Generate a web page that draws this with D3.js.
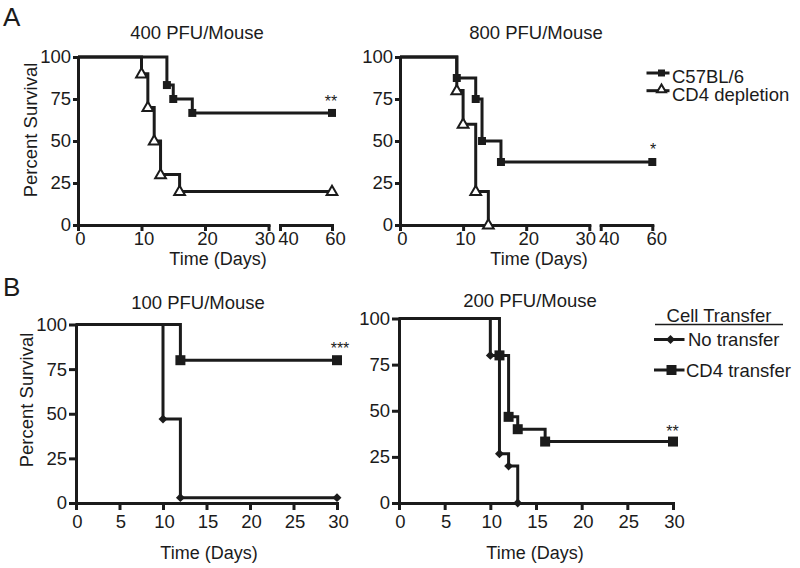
<!DOCTYPE html>
<html><head><meta charset="utf-8">
<script src="https://cdn.jsdelivr.net/npm/d3@7"></script>
<style>
body{margin:0;background:#fff}
svg{display:block}
text{font-family:"Liberation Sans",Arial,Helvetica,sans-serif}
</style>
</head><body>
<svg id="c" width="800" height="568"></svg>
<script>
// ---------------- DATA ----------------
const yTicks = [0, 25, 50, 75, 100];
const xTicksA1 = [0, 10, 20, 30];
const xTicksA2 = [40, 60];
const xTicksB = [0, 5, 10, 15, 20, 25, 30];

const seriesA = ["C57BL/6", "CD4 depletion"];
const seriesB = ["No transfer", "CD4 transfer"];
const legendTitleB = "Cell Transfer";

// 400 PFU/Mouse
const a400_c57_t = [0, 14, 15, 18, 60];
const a400_c57_s = [100, 83.3, 75, 66.7, 66.7];
const a400_cd4_t = [0, 10, 11, 12, 13, 16, 60];
const a400_cd4_s = [100, 90, 70, 50, 30, 20, 20];
// 800 PFU/Mouse
const a800_c57_t = [0, 9, 12, 13, 16, 60];
const a800_c57_s = [100, 87.5, 75, 50, 37.5, 37.5];
const a800_cd4_t = [0, 9, 10, 12, 14];
const a800_cd4_s = [100, 80, 60, 20, 0];
// 100 PFU/Mouse
const b100_no_t = [0, 10, 12, 30];
const b100_no_s = [100, 47, 3, 3];
const b100_cd4_t = [0, 12, 30];
const b100_cd4_s = [100, 80, 80];
// 200 PFU/Mouse
const b200_no_t = [0, 10, 11, 12, 13];
const b200_no_s = [100, 80, 26.7, 20, 0];
const b200_cd4_t = [0, 11, 12, 13, 16, 30];
const b200_cd4_s = [100, 80, 46.7, 40, 33.3, 33.3];

const titles = ["400 PFU/Mouse", "800 PFU/Mouse", "100 PFU/Mouse", "200 PFU/Mouse"];
const signif = ["**", "*", "***", "**"];
const xLabel = "Time (Days)";
const yLabel = "Percent Survival";

// ---------------- DRAW ----------------
const INK = "#1b1b1b";
const svg = d3.select("#c");

const sqA = d3.symbol().type(d3.symbolSquare).size(64);
const sqB = d3.symbol().type(d3.symbolSquare).size(100);
const tri = d3.symbol().type(d3.symbolTriangle).size(50);
const dia = d3.symbol().type(d3.symbolSquare).size(40);

function marker(g, kind, cx, cy) {
  if (kind === "sqA") g.append("path").attr("d", sqA()).attr("transform", `translate(${cx},${cy})`).attr("fill", INK);
  else if (kind === "sqB") g.append("path").attr("d", sqB()).attr("transform", `translate(${cx},${cy})`).attr("fill", INK);
  else if (kind === "tri") g.append("path").attr("d", tri()).attr("transform", `translate(${cx},${cy + 0.5})`).attr("fill", "#fff").attr("stroke", INK).attr("stroke-width", 2);
  else if (kind === "dia") g.append("path").attr("d", dia()).attr("transform", `translate(${cx},${cy}) rotate(45)`).attr("fill", INK);
}

function styleAxis(a, fs) {
  a.attr("font-family", null).attr("font-size", null);
  a.select(".domain").attr("stroke", INK).attr("stroke-width", 3).attr("stroke-linecap", "square");
  a.selectAll(".tick line").attr("stroke", INK).attr("stroke-width", 3);
  a.selectAll(".tick text").attr("fill", INK).style("font-size", fs + "px");
}

function panel(cfg) {
  const g = svg.append("g");
  const x = d3.scaleLinear().domain(cfg.xd).range(cfg.xr);
  const y = d3.scaleLinear().domain([0, 100]).range([cfg.y0, cfg.y100]);

  // axes
  const ya = g.append("g").attr("transform", `translate(${cfg.xr[0]},0)`)
    .call(d3.axisLeft(y).tickValues(yTicks).tickSize(cfg.ytick).tickPadding(cfg.ypad).tickSizeOuter(0));
  styleAxis(ya, cfg.fs);
  cfg.xsegs.forEach(seg => {
    const xs = d3.scaleLinear().domain(seg.d).range(seg.d.map(x));
    const xa = g.append("g").attr("transform", `translate(0,${cfg.y0})`)
      .call(d3.axisBottom(xs).tickValues(seg.ticks).tickSize(cfg.xtick).tickPadding(cfg.xpad).tickSizeOuter(0));
    styleAxis(xa, cfg.fs);
    if (cfg.xdx) xa.selectAll(".tick text").attr("dx", d => (cfg.xdx[d] !== undefined ? cfg.xdx[d] : cfg.xdx.def));
  });

  // lines
  const line = d3.line().x(d => x(d[0])).y(d => y(d[1])).curve(d3.curveStepAfter);
  cfg.series.forEach(s => {
    const pts = s.t.map((t, i) => [t, s.s[i]]);
    g.append("path").datum(pts).attr("d", line).attr("fill", "none")
      .attr("stroke", INK).attr("stroke-width", 3).attr("stroke-linejoin", "miter");
  });
  cfg.series.forEach(s => {
    s.t.forEach((t, i) => { if (i > 0) marker(g, s.m, x(t), y(s.s[i])); });
  });

  // texts
  g.append("text").text(cfg.title).attr("x", cfg.tx).attr("y", cfg.ty)
    .attr("text-anchor", "middle").style("font-size", "18.5px").attr("fill", INK);
  g.append("text").text(xLabel).attr("x", cfg.lx).attr("y", cfg.ly)
    .attr("text-anchor", "middle").style("font-size", "18px").attr("fill", INK);
  if (cfg.yl) {
    g.append("text").text(yLabel).attr("transform", `translate(${cfg.yl[0]},${cfg.yl[1]}) rotate(-90)`)
      .attr("text-anchor", "middle").style("font-size", "18.5px").attr("fill", INK);
  }
  g.append("text").text(cfg.sig).attr("x", cfg.sx).attr("y", cfg.sy)
    .attr("text-anchor", "middle").style("font-size", "16px").attr("fill", INK);
}

panel({
  xd: [0, 30, 40, 60], xr: [78, 268.5, 280, 332], y0: 225, y100: 57,
  xsegs: [{ d: [0, 30], ticks: xTicksA1 }, { d: [40, 60], ticks: xTicksA2 }],
  ytick: 5, ypad: 2, xtick: 6, xpad: 1, fs: 18.5,
  xdx: { def: 2, 30: -4, 40: 8, 60: 3 },
  series: [
    { t: a400_c57_t, s: a400_c57_s, m: "sqA" },
    { t: a400_cd4_t, s: a400_cd4_s, m: "tri" }
  ],
  title: titles[0], tx: 197, ty: 39, lx: 218, ly: 264.5, yl: [37, 130],
  sig: signif[0], sx: 331, sy: 107
});
panel({
  xd: [0, 30, 40, 60], xr: [400, 589.3, 600.7, 652.3], y0: 225, y100: 57,
  xsegs: [{ d: [0, 30], ticks: xTicksA1 }, { d: [40, 60], ticks: xTicksA2 }],
  ytick: 5, ypad: 2, xtick: 6, xpad: 1, fs: 18.5,
  xdx: { def: 2, 30: -4, 40: 8, 60: 4 },
  series: [
    { t: a800_c57_t, s: a800_c57_s, m: "sqA" },
    { t: a800_cd4_t, s: a800_cd4_s, m: "tri" }
  ],
  title: titles[1], tx: 536, ty: 39, lx: 539, ly: 264.5, yl: null,
  sig: signif[1], sx: 653, sy: 155
});
panel({
  xd: [0, 30], xr: [76, 337], y0: 503, y100: 324.5,
  xsegs: [{ d: [0, 30], ticks: xTicksB }],
  ytick: 7, ypad: 2, xtick: 7, xpad: 5, fs: 18.5,
  xdx: { def: 1 },
  series: [
    { t: b100_no_t, s: b100_no_s, m: "dia" },
    { t: b100_cd4_t, s: b100_cd4_s, m: "sqB" }
  ],
  title: titles[2], tx: 198, ty: 309, lx: 209, ly: 559, yl: [33, 400],
  sig: signif[2], sx: 340, sy: 354
});
panel({
  xd: [0, 30], xr: [399, 673], y0: 503, y100: 318.5,
  xsegs: [{ d: [0, 30], ticks: xTicksB }],
  ytick: 7, ypad: 2, xtick: 7, xpad: 5, fs: 18.5,
  xdx: { def: 1 },
  series: [
    { t: b200_no_t, s: b200_no_s, m: "dia" },
    { t: b200_cd4_t, s: b200_cd4_s, m: "sqB" }
  ],
  title: titles[3], tx: 530, ty: 307, lx: 535, ly: 559, yl: null,
  sig: signif[3], sx: 672.5, sy: 437
});

// panel letters
svg.append("text").text("A").attr("x", 3).attr("y", 26).style("font-size", "26px").attr("fill", INK);
svg.append("text").text("B").attr("x", 3).attr("y", 296).style("font-size", "26px").attr("fill", INK);

// legend A
const legA = svg.append("g");
seriesA.forEach((name, i) => {
  const yy = 73 + i * 17.7;
  legA.append("line").attr("x1", 646.5).attr("x2", 669.5).attr("y1", yy).attr("y2", yy)
    .attr("stroke", INK).attr("stroke-width", 3);
  if (i === 0) legA.append("path").attr("d", d3.symbol().type(d3.symbolSquare).size(49)()).attr("transform", `translate(661.5,${yy})`).attr("fill", INK);
  else legA.append("path").attr("d", d3.symbol().type(d3.symbolTriangle).size(36)()).attr("transform", `translate(661.5,${yy - 1})`).attr("fill", "#fff").attr("stroke", INK).attr("stroke-width", 2);
  legA.append("text").text(name).attr("x", 672).attr("y", yy + 4.3).attr("dy", "0.32em")
    .style("font-size", "18.5px").attr("fill", INK);
});

// legend B
const legB = svg.append("g");
legB.append("text").text(legendTitleB).attr("x", 719).attr("y", 321.5).attr("text-anchor", "middle")
  .style("font-size", "18.5px").attr("fill", INK);
legB.append("line").attr("x1", 655).attr("x2", 783).attr("y1", 324.5).attr("y2", 324.5)
  .attr("stroke", INK).attr("stroke-width", 1.5);
seriesB.forEach((name, i) => {
  const yy = 339.5 + i * 30.5;
  legB.append("line").attr("x1", 654).attr("x2", 684.5).attr("y1", yy).attr("y2", yy)
    .attr("stroke", INK).attr("stroke-width", 3);
  if (i === 0) legB.append("path").attr("d", dia()).attr("transform", `translate(670.5,${yy}) rotate(45)`).attr("fill", INK);
  else legB.append("path").attr("d", sqB()).attr("transform", `translate(671.5,${yy})`).attr("fill", INK);
  legB.append("text").text(name).attr("x", i === 0 ? 688 : 686).attr("y", yy + 0.5).attr("dy", "0.35em")
    .style("font-size", "18.5px").attr("fill", INK);
});
</script>
</body></html>
